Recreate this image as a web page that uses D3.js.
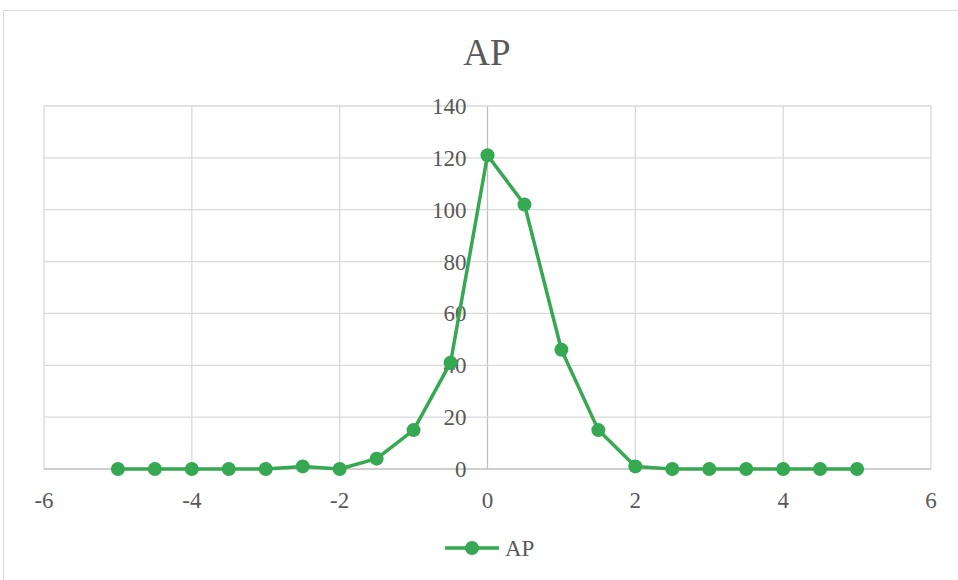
<!DOCTYPE html>
<html>
<head>
<meta charset="utf-8">
<script src="https://cdn.jsdelivr.net/npm/d3@7"></script>
<style>
  body { margin: 0; background: #fff; }
  svg text { font-family: "Liberation Serif", "Times New Roman", serif; fill: #595959; }
</style>
</head>
<body>
<div id="chart"></div>
<script>
// Datos de la serie AP
const xValues = [-5, -4.5, -4, -3.5, -3, -2.5, -2, -1.5, -1, -0.5, 0, 0.5, 1, 1.5, 2, 2.5, 3, 3.5, 4, 4.5, 5];
const apValues = [0, 0, 0, 0, 0, 1, 0, 4, 15, 41, 121, 102, 46, 15, 1, 0, 0, 0, 0, 0, 0];
const xTicks = [-6, -4, -2, 0, 2, 4, 6];
const yTicks = [0, 20, 40, 60, 80, 100, 120, 140];
const seriesName = "AP";

const width = 958;
const height = 580;
const margin = { top: 106, right: 27, bottom: 111, left: 44 };
const green = "#37a852";

const svg = d3.select("#chart")
    .append("svg")
    .attr("width", width)
    .attr("height", height);

// Borde del gráfico
svg.append("rect")
    .attr("x", 3.5).attr("y", 10.5)
    .attr("width", width + 10).attr("height", height + 10)
    .attr("fill", "none")
    .attr("stroke", "#d9d9d9");

const x = d3.scaleLinear()
    .domain([-6, 6])
    .range([margin.left, width - margin.right]);

const y = d3.scaleLinear()
    .domain([0, 140])
    .range([height - margin.bottom, margin.top]);

// Rejilla
svg.append("g")
    .selectAll("line")
    .data(xTicks)
    .enter().append("line")
    .attr("x1", d => x(d)).attr("x2", d => x(d))
    .attr("y1", y(140)).attr("y2", y(0))
    .attr("stroke", d => d === 0 ? "#bfbfbf" : "#d9d9d9")
    .attr("stroke-width", 1.3);

svg.append("g")
    .selectAll("line")
    .data(yTicks)
    .enter().append("line")
    .attr("x1", x(-6)).attr("x2", x(6))
    .attr("y1", d => y(d)).attr("y2", d => y(d))
    .attr("stroke", d => d === 0 ? "#bfbfbf" : "#d9d9d9")
    .attr("stroke-width", 1.3);

// Etiquetas de ejes
svg.append("g")
    .selectAll("text")
    .data(xTicks)
    .enter().append("text")
    .attr("x", d => x(d))
    .attr("y", y(0) + 39)
    .attr("text-anchor", "middle")
    .attr("font-size", 23)
    .text(d => d);

svg.append("g")
    .selectAll("text")
    .data(yTicks)
    .enter().append("text")
    .attr("x", x(0) - 21)
    .attr("y", d => y(d))
    .attr("dy", "0.35em")
    .attr("text-anchor", "end")
    .attr("font-size", 23)
    .text(d => d);

// Título
svg.append("text")
    .attr("x", 487)
    .attr("y", 65)
    .attr("text-anchor", "middle")
    .attr("font-size", 37)
    .text(seriesName);

// Serie
const points = xValues.map((v, i) => ({ x: v, y: apValues[i] }));

svg.append("path")
    .datum(points)
    .attr("fill", "none")
    .attr("stroke", green)
    .attr("stroke-width", 3.5)
    .attr("stroke-linejoin", "round")
    .attr("d", d3.line().x(d => x(d.x)).y(d => y(d.y)));

svg.append("g")
    .selectAll("circle")
    .data(points)
    .enter().append("circle")
    .attr("cx", d => x(d.x))
    .attr("cy", d => y(d.y))
    .attr("r", 7)
    .attr("fill", green);

// Leyenda
const legend = svg.append("g").attr("transform", "translate(445,548)");
legend.append("line")
    .attr("x1", 0).attr("x2", 54)
    .attr("stroke", green).attr("stroke-width", 3.5);
legend.append("circle")
    .attr("cx", 27).attr("r", 7).attr("fill", green);
legend.append("text")
    .attr("x", 60).attr("dy", "0.35em")
    .attr("font-size", 23)
    .text(seriesName);
</script>
</body>
</html>
